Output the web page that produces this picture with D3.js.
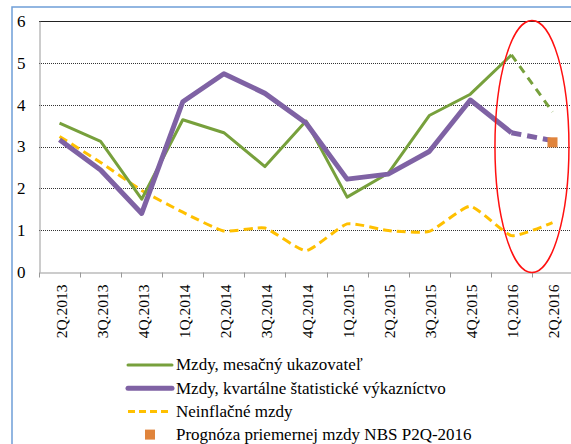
<!DOCTYPE html>
<meta charset="utf-8">
<style>
body { margin: 0; background: #fff; }
svg text { font-family: "Liberation Serif", "Times New Roman", "DejaVu Serif", serif; fill: #000; }
.grid line { stroke: #333; stroke-dasharray: 1,1; }
</style>
<svg width="571" height="444"></svg>
<script src="https://d3js.org/d3.v7.min.js"></script>
<script>

var quarters = ["2Q.2013","3Q.2013","4Q.2013","1Q.2014","2Q.2014","3Q.2014","4Q.2014",
                "1Q.2015","2Q.2015","3Q.2015","4Q.2015","1Q.2016","2Q.2016"];
var mesacny   = [3.56, 3.12, 1.74, 3.64, 3.33, 2.52, 3.61, 1.79, 2.36, 3.74, 4.25, 5.19, 3.83];
var kvartalne = [3.16, 2.44, 1.40, 4.07, 4.74, 4.27, 3.56, 2.22, 2.34, 2.88, 4.11, 3.33, 3.14];
var neinfl    = [3.24, 2.62, 1.95, 1.43, 0.98, 1.05, 0.51, 1.15, 0.99, 0.97, 1.57, 0.87, 1.18];
var prognoza  = [{q: "2Q.2016", v: 3.1}];
var yTicks = [0, 1, 2, 3, 4, 5, 6];

var serif = "'Liberation Serif', 'Times New Roman', serif";

var svg = d3.select("svg");

// outer frame of the chart object (cut off on the right and bottom)
svg.append("rect")
    .attr("x", 12).attr("y", 7)
    .attr("width", 620).attr("height", 500)
    .attr("fill", "none")
    .attr("stroke", "#6f9fd8")
    .attr("stroke-width", 1.5);

var plotLeft = 39, plotTop = 21, plotBottom = 272, step = 41.08;

var x = d3.scaleBand()
    .domain(quarters)
    .range([plotLeft, plotLeft + step * quarters.length])
    .padding(0);

var y = d3.scaleLinear()
    .domain([0, 6])
    .range([plotBottom, plotTop]);

function cx(q) { return x(q) + x.bandwidth() / 2; }

// gridlines
svg.append("g")
    .attr("class", "grid")
  .selectAll("line")
  .data(yTicks.filter(function(d) { return d > 0 && d < 6; }))
  .enter().append("line")
    .attr("x1", plotLeft).attr("x2", 571)
    .attr("y1", function(d) { return Math.round(y(d)) + 0.5; })
    .attr("y2", function(d) { return Math.round(y(d)) + 0.5; });

svg.append("line")
    .attr("x1", plotLeft).attr("x2", 571)
    .attr("y1", Math.round(y(6)) + 0.5).attr("y2", Math.round(y(6)) + 0.5)
    .attr("stroke", "#222");

// y axis
var yAxis = svg.append("g")
    .attr("transform", "translate(" + (plotLeft + 0.5) + ",0)")
    .call(d3.axisLeft(y).tickValues(yTicks).tickSize(0).tickPadding(14).tickFormat(d3.format("d")));
yAxis.attr("font-family", serif);
yAxis.select(".domain").attr("stroke", "#999");
yAxis.selectAll("text").style("font-size", "17px");

// x axis
var xAxis = svg.append("g")
    .attr("transform", "translate(0," + (Math.round(plotBottom) + 0.5) + ")")
    .call(d3.axisBottom(x).tickSize(0).tickSizeOuter(0));
xAxis.attr("font-family", serif);
xAxis.select(".domain").attr("stroke", "#999");
xAxis.selectAll("text")
    .style("font-size", "15.5px")
    .attr("text-anchor", "end")
    .attr("transform", "rotate(-90)")
    .attr("x", -12)
    .attr("y", 0)
    .attr("dy", "0.45em");

xAxis.selectAll(".bound")
  .data(d3.range(quarters.length + 1))
  .enter().append("line")
    .attr("class", "bound")
    .attr("x1", function(i) { return Math.round(plotLeft + i * step) + 0.5; })
    .attr("x2", function(i) { return Math.round(plotLeft + i * step) + 0.5; })
    .attr("y1", 0).attr("y2", 5)
    .attr("stroke", "#999");

var line = d3.line()
    .x(function(d) { return cx(d.q); })
    .y(function(d) { return y(d.v); });

var smooth = d3.line()
    .x(function(d) { return cx(d.q); })
    .y(function(d) { return y(d.v); })
    .curve(d3.curveCardinal.tension(0.5));

function pts(arr) { return arr.map(function(v, i) { return {q: quarters[i], v: v}; }); }

var n = quarters.length;

// neinflacne mzdy
svg.append("path")
    .datum(pts(neinfl))
    .attr("d", smooth)
    .attr("fill", "none")
    .attr("stroke", "#ffc000")
    .attr("stroke-width", 3)
    .attr("stroke-dasharray", "9,5");

// mesacny ukazovatel
svg.append("path")
    .datum(pts(mesacny).slice(0, n - 1))
    .attr("d", line)
    .attr("fill", "none")
    .attr("stroke", "#77a03c")
    .attr("stroke-width", 3)
    .attr("stroke-linejoin", "round");
svg.append("path")
    .datum(pts(mesacny).slice(n - 2))
    .attr("d", line)
    .attr("fill", "none")
    .attr("stroke", "#77a03c")
    .attr("stroke-width", 3)
    .attr("stroke-dasharray", "8,6");

// kvartalne vykaznictvo
svg.append("path")
    .datum(pts(kvartalne).slice(0, n - 1))
    .attr("d", line)
    .attr("fill", "none")
    .attr("stroke", "#7f62a4")
    .attr("stroke-width", 5)
    .attr("stroke-linejoin", "round");
svg.append("path")
    .datum(pts(kvartalne).slice(n - 2))
    .attr("d", line)
    .attr("fill", "none")
    .attr("stroke", "#7f62a4")
    .attr("stroke-width", 5)
    .attr("stroke-dasharray", "10,6");

// prognoza NBS
svg.selectAll(".prog")
  .data(prognoza)
  .enter().append("rect")
    .attr("class", "prog")
    .attr("x", function(d) { return cx(d.q) - 5; })
    .attr("y", function(d) { return y(d.v) - 5; })
    .attr("width", 10).attr("height", 10)
    .attr("fill", "#e0843c");

// red ellipse around the last quarters
svg.append("ellipse")
    .attr("cx", (cx("1Q.2016") + cx("2Q.2016")) / 2)
    .attr("cy", (y(6) + y(0)) / 2)
    .attr("rx", 37)
    .attr("ry", 126)
    .attr("fill", "none")
    .attr("stroke", "#ff1010")
    .attr("stroke-width", 1.5);

// legend
var legendItems = [
  {label: "Mzdy, mesačný ukazovateľ", type: "line", color: "#77a03c", width: 3, dash: null},
  {label: "Mzdy, kvartálne štatistické výkazníctvo", type: "line", color: "#7f62a4", width: 5, dash: null},
  {label: "Neinflačné mzdy", type: "line", color: "#ffc000", width: 3, dash: "7,4"},
  {label: "Prognóza priemernej mzdy NBS P2Q-2016", type: "square", color: "#e0843c"}
];

var lg = svg.append("g")
    .attr("font-family", serif)
  .selectAll("g")
  .data(legendItems)
  .enter().append("g")
    .attr("transform", function(d, i) { return "translate(128," + (365 + i * 23.2) + ")"; });

lg.filter(function(d) { return d.type === "line"; })
  .append("line")
    .attr("x1", 0).attr("x2", 44)
    .attr("stroke", function(d) { return d.color; })
    .attr("stroke-width", function(d) { return d.width; })
    .attr("stroke-dasharray", function(d) { return d.dash; })
    .attr("stroke-linecap", function(d) { return d.dash ? "butt" : "round"; });

lg.filter(function(d) { return d.type === "square"; })
  .append("rect")
    .attr("x", 17).attr("y", -5)
    .attr("width", 10).attr("height", 10)
    .attr("fill", function(d) { return d.color; });

lg.append("text")
    .attr("x", 48)
    .attr("dy", "0.32em")
    .style("font-size", "17px")
    .text(function(d) { return d.label; });

</script>
